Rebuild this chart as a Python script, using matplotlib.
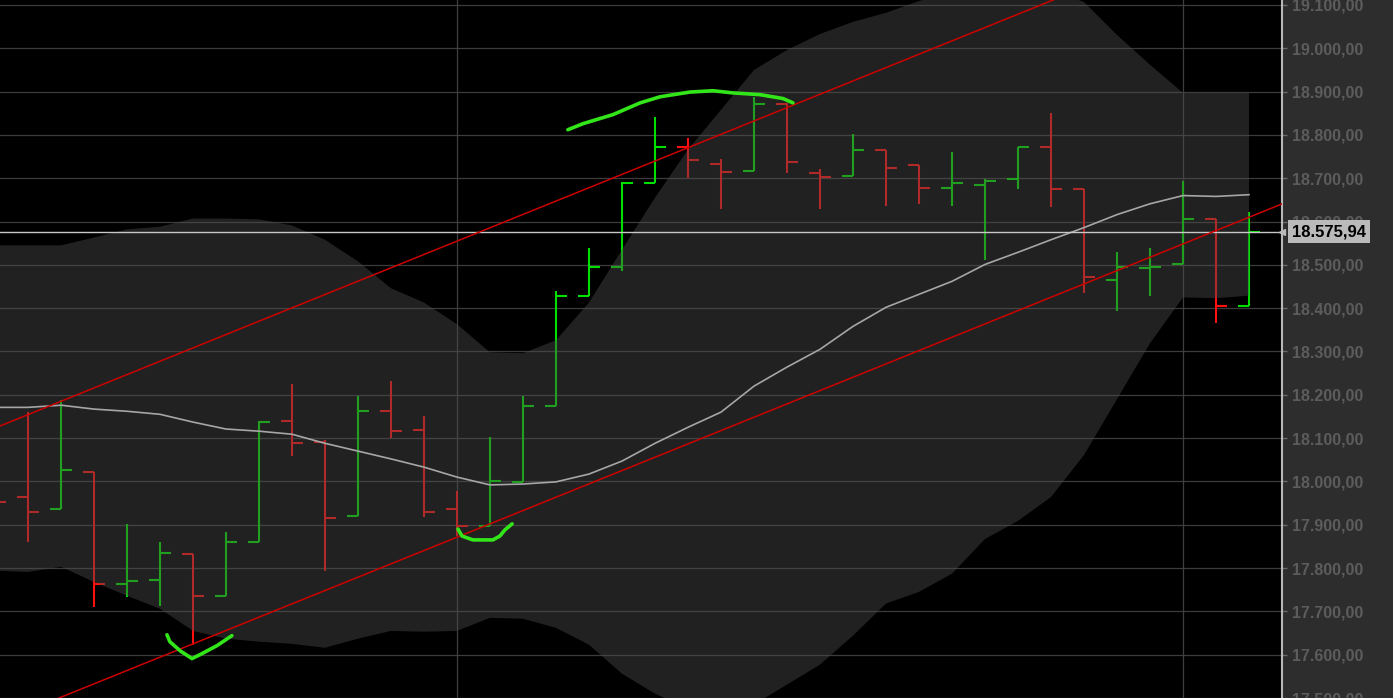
import matplotlib
matplotlib.use("Agg")
import matplotlib.pyplot as plt
from matplotlib.ticker import FuncFormatter
import numpy as np

plt.rcParams['font.family'] = ['Liberation Sans', 'DejaVu Sans']

# one OHLC bar per period, first bar sits just left of the visible area
opens = [18005, 17964, 17936, 18022, 17764, 17773, 17833, 17736, 17860, 18139,
         18091, 17920, 18162, 18118, 17936, 17897, 17999, 18174, 18429, 18496,
         18688, 18773, 18734, 18717, 18872, 18711, 18706, 18766, 18731, 18678,
         18685, 18699, 18773, 18676, 18464, 18492, 18503, 18607, 18406]
highs = [18030, 18160, 18188, 18022, 17902, 17860, 17833, 17883, 18139, 18224,
         18095, 18197, 18231, 18151, 17978, 18102, 18197, 18439, 18538, 18692,
         18842, 18794, 18745, 18888, 18874, 18722, 18803, 18766, 18731, 18761,
         18699, 18773, 18851, 18676, 18529, 18538, 18694, 18607, 18621]
lows = [17910, 17860, 17936, 17711, 17734, 17713, 17623, 17736, 17860, 18059,
        17794, 17920, 18100, 17918, 17874, 17897, 17999, 18174, 18427, 18485,
        18688, 18701, 18628, 18717, 18713, 18628, 18706, 18637, 18641, 18637,
        18512, 18676, 18634, 18436, 18393, 18427, 18503, 18365, 18406]
closes = [17953, 17930, 18026, 17764, 17771, 17835, 17736, 17860, 18137, 18088,
          17916, 18162, 18116, 17930, 17897, 18001, 18174, 18427, 18496, 18688,
          18773, 18743, 18715, 18872, 18738, 18704, 18766, 18724, 18678, 18690,
          18694, 18773, 18676, 18471, 18496, 18496, 18607, 18404, 18575.94]

# 20 period moving average and bollinger bands
ma20 = [18171, 18171, 18176, 18167, 18162, 18155, 18137, 18121, 18116, 18109,
        18088, 18070, 18052, 18033, 18010, 17992, 17994, 17999, 18017, 18047,
        18088, 18125, 18160, 18220, 18264, 18305, 18358, 18402, 18432, 18462,
        18501, 18529, 18558, 18586, 18616, 18641, 18660, 18658, 18662]
bb_upper = [18545, 18545, 18545, 18563, 18582, 18588, 18607, 18607, 18605, 18591,
            18558, 18508, 18446, 18413, 18363, 18298, 18296, 18326, 18413, 18535,
            18655, 18766, 18858, 18950, 18996, 19033, 19061, 19082, 19109, 19130,
            19139, 19139, 19135, 19107, 19031, 18962, 18897, 18897, 18897]
bb_lower = [17794, 17791, 17803, 17768, 17736, 17706, 17655, 17637, 17630, 17625,
            17616, 17637, 17655, 17653, 17655, 17685, 17683, 17662, 17623, 17556,
            17510, 17476, 17462, 17485, 17531, 17577, 17644, 17718, 17745, 17787,
            17867, 17909, 17964, 18061, 18190, 18319, 18425, 18423, 18429]

last_price = 18575.94
price_ticks = [17500, 17600, 17700, 17800, 17900, 18000, 18100, 18200,
               18300, 18400, 18500, 18600, 18700, 18800, 18900, 19000, 19100]

# channel anchors (bar index, price)
channel_low = [(5, 17625), (14, 17902)]
channel_high = [(1, 18185), (23, 18863)]

# hand drawn marks (bar index, price)
mark_left = [(4.21, 17646), (4.30, 17630), (4.61, 17609), (4.97, 17591),
             (5.21, 17600), (5.73, 17621), (6.18, 17644)]
mark_mid = [(13.03, 17890), (13.15, 17874), (13.48, 17865), (14.09, 17865),
            (14.30, 17874), (14.45, 17888), (14.67, 17902)]
mark_top = [(16.36, 18812), (16.82, 18826), (17.73, 18847), (18.55, 18874),
            (19.15, 18888), (20.06, 18899), (20.76, 18902), (21.36, 18897),
            (22.18, 18893), (22.88, 18884), (23.18, 18874)]

GREEN = '#00e000'
RED = '#ff1010'


def de_fmt(v):
    # 18575.94 -> 18.575,94
    return f"{v:,.2f}".replace(',', 'X').replace('.', ',').replace('X', '.')


fig = plt.figure(figsize=(13.93, 6.98), dpi=100, facecolor='#2d2d2d')
ax = fig.add_axes([0, 0, 1282 / 1393, 1])
ax.set_facecolor('black')

x = np.arange(len(opens)) - 1
cols = [GREEN if c >= o else RED for o, c in zip(opens, closes)]

# bars
ax.vlines(x, lows, highs, colors=cols, lw=1.5, zorder=2)
ax.hlines(opens, x - 0.33, x, colors=cols, lw=1.5, zorder=2)
ax.hlines(closes, x, x + 0.33, colors=cols, lw=1.5, zorder=2)

# band is a see-through layer on top of the bars
ax.fill_between(x, bb_lower, bb_upper, color='#4c4c4c', alpha=0.44, lw=0, zorder=3)
ax.plot(x, ma20, color='#a6a6a6', lw=1.2, zorder=4)

xlim = (-0.848, 38.0)
ylim = (17503, 19111.5)

# trend channel
for (x0, p0), (x1, p1) in (channel_low, channel_high):
    k = (p1 - p0) / (x1 - x0)
    ax.plot(xlim, [p0 + k * (xlim[0] - x0), p0 + k * (xlim[1] - x0)],
            color='#cc0000', lw=1.1, zorder=5)

ax.axhline(last_price, color='#c8c8c8', lw=1.0, zorder=4)

for m in (mark_left, mark_mid, mark_top):
    mx, my = zip(*m)
    ax.plot(mx, my, color='#33e61a', lw=2.6, solid_capstyle='round',
            solid_joinstyle='round', zorder=6)

ax.set_xlim(xlim)
ax.set_ylim(ylim)

# grid
for p in price_ticks:
    ax.axhline(p, color='#3c3c3c', lw=0.9, zorder=1)
for v in (13, 35):
    ax.axvline(v, color='#3f3f3f', lw=0.9, zorder=1)

ax.set_xticks([])
ax.yaxis.tick_right()
ax.set_yticks(price_ticks)
ax.yaxis.set_major_formatter(FuncFormatter(lambda v, pos: de_fmt(v)))
ax.tick_params(axis='y', colors='#6a6a6a', labelcolor='#5c5c5c', length=3.6,
               width=1, pad=3.5, labelsize=11.5)
for lab in ax.get_yticklabels():
    lab.set_fontweight('bold')

for s in ('top', 'left', 'bottom'):
    ax.spines[s].set_visible(False)
ax.spines['right'].set_color('#b8b8b8')
ax.spines['right'].set_linewidth(1.5)

ax.annotate(de_fmt(last_price), xy=(1, last_price), xycoords=('axes fraction', 'data'),
            xytext=(7.4, 0), textcoords='offset points', ha='left', va='center',
            fontsize=12, fontweight='bold', color='black', annotation_clip=False,
            bbox=dict(boxstyle='square,pad=0.24', fc='#bababa', ec='none'), zorder=10)
ax.plot([1.0], [last_price], marker='<', color='#bababa', markersize=4,
        transform=ax.get_yaxis_transform(), clip_on=False, zorder=10)

fig.savefig('out.png', dpi=100, facecolor=fig.get_facecolor())
